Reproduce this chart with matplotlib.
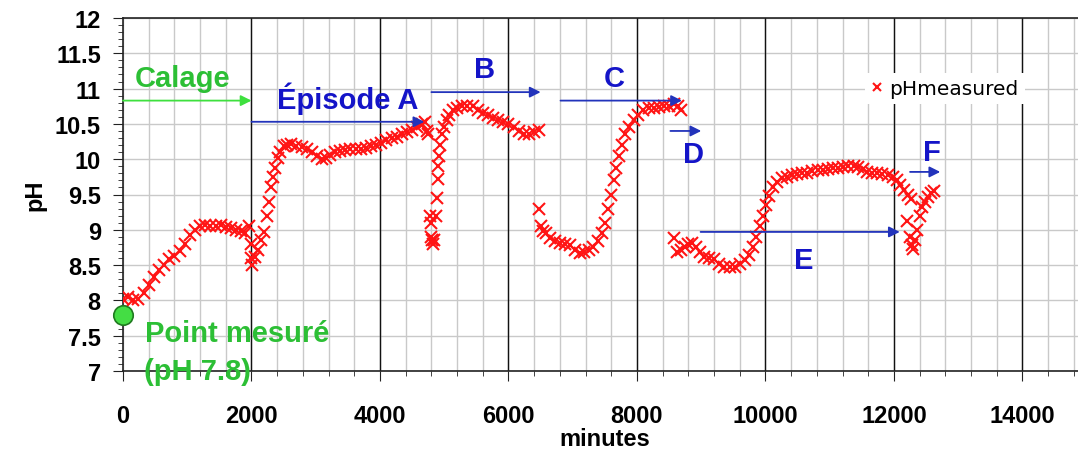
import matplotlib
matplotlib.use("Agg")
import matplotlib.pyplot as plt
from matplotlib.ticker import MultipleLocator

plt.rcParams['font.family'] = ['Liberation Sans', 'DejaVu Sans']

# ---- data (minutes, pH) ----
t_calage = [0, 80, 160, 240, 320, 400, 480, 560, 640, 720, 800, 880, 960, 1040, 1120,
            1200, 1280, 1360, 1440, 1520, 1600, 1680, 1760, 1840, 1900, 1960, 1990, 2000, 2010]
ph_calage = [8.02, 8.05, 8.00, 8.02, 8.10, 8.22, 8.33, 8.43, 8.50, 8.58, 8.63, 8.70, 8.80, 8.92, 9.00,
             9.05, 9.07, 9.06, 9.05, 9.07, 9.04, 9.03, 9.00, 8.98, 8.95, 9.05, 8.80, 8.60, 8.50]

t_a = [2050, 2100, 2150, 2200, 2240, 2270, 2300, 2330, 2370, 2410, 2450, 2500, 2560, 2620,
       2700, 2780, 2860, 2940, 3020, 3100, 3160, 3220, 3300, 3380, 3460, 3540, 3620, 3700,
       3780, 3860, 3940, 4020, 4100, 4180, 4260, 4340, 4420, 4500, 4580, 4650, 4700, 4730, 4750]
ph_a = [8.62, 8.72, 8.85, 8.97, 9.20, 9.40, 9.60, 9.75, 9.88, 10.01, 10.10, 10.18, 10.20, 10.21,
        10.19, 10.17, 10.15, 10.10, 10.05, 10.00, 10.02, 10.06, 10.10, 10.12, 10.13, 10.14, 10.15, 10.15,
        10.16, 10.18, 10.20, 10.23, 10.27, 10.30, 10.32, 10.35, 10.38, 10.42, 10.46, 10.50, 10.53, 10.40, 10.35]

t_b = [4780, 4790, 4800, 4810, 4820, 4840, 4870, 4890, 4900, 4910, 4920, 4940, 4970, 5000,
       5040, 5080, 5130, 5200, 5280, 5360, 5440, 5520, 5600, 5680, 5760, 5840, 5920, 6000,
       6080, 6160, 6240, 6320, 6400, 6470]
ph_b = [9.20, 9.10, 8.90, 8.85, 8.80, 8.85, 9.20, 9.45, 9.72, 9.90, 10.05, 10.20, 10.35, 10.45,
        10.55, 10.63, 10.69, 10.73, 10.75, 10.76, 10.75, 10.70, 10.66, 10.62, 10.59, 10.56, 10.53, 10.50,
        10.45, 10.40, 10.36, 10.35, 10.38, 10.42]

t_c = [6480, 6500, 6530, 6580, 6640, 6720, 6800, 6880, 6960, 7040, 7110, 7180, 7260, 7320,
       7390, 7450, 7500, 7550, 7600, 7640, 7680, 7720, 7760, 7820, 7880, 7950, 8020, 8100,
       8180, 8260, 8340, 8420, 8500, 8580, 8640, 8680]
ph_c = [9.30, 9.05, 8.98, 8.95, 8.88, 8.84, 8.81, 8.80, 8.78, 8.72, 8.67, 8.68, 8.72, 8.76,
        8.84, 8.95, 9.10, 9.30, 9.50, 9.70, 9.88, 10.05, 10.20, 10.35, 10.46, 10.55, 10.63, 10.69,
        10.72, 10.73, 10.74, 10.75, 10.76, 10.78, 10.76, 10.70]

t_e = [8580, 8620, 8680, 8740, 8800, 8860, 8920, 8980, 9040, 9120, 9200, 9280, 9360, 9440,
       9520, 9600, 9680, 9740, 9800, 9860, 9910, 9960, 10010, 10060, 10120, 10180, 10250, 10330,
       10410, 10490, 10570, 10650, 10730, 10810, 10890, 10970, 11050, 11130, 11210, 11290, 11370,
       11440, 11510, 11580, 11660, 11740, 11820, 11900, 11980, 12040, 12100, 12160, 12220, 12270]
ph_e = [8.88, 8.68, 8.72, 8.76, 8.80, 8.82, 8.76, 8.68, 8.62, 8.60, 8.58, 8.52, 8.48, 8.47,
        8.48, 8.52, 8.57, 8.65, 8.76, 8.90, 9.05, 9.20, 9.35, 9.48, 9.60, 9.68, 9.73, 9.75,
        9.77, 9.79, 9.80, 9.81, 9.83, 9.84, 9.85, 9.86, 9.87, 9.88, 9.89, 9.90, 9.91,
        9.89, 9.86, 9.82, 9.80, 9.80, 9.79, 9.78, 9.75, 9.70, 9.63, 9.57, 9.50, 9.43]

t_f = [12210, 12250, 12280, 12300, 12330, 12360, 12400, 12440, 12480, 12530, 12580, 12620]
ph_f = [9.12, 8.90, 8.78, 8.73, 8.85, 9.00, 9.20, 9.32, 9.40, 9.47, 9.52, 9.55]

minutes = t_calage + t_a + t_b + t_c + t_e + t_f
ph_measured = ph_calage + ph_a + ph_b + ph_c + ph_e + ph_f

point_measured = (0, 7.8)

x_ticks = [0, 2000, 4000, 6000, 8000, 10000, 12000, 14000]
y_ticks = [7, 7.5, 8, 8.5, 9, 9.5, 10, 10.5, 11, 11.5, 12]

GREEN_TXT = '#2cbf35'
GREEN_ARR = '#3ee03e'
BLUE_TXT = '#1414c8'
BLUE_ARR = '#2233bb'
RED = '#ff1414'

fig = plt.figure(figsize=(10.78, 4.56), dpi=100)
ax = fig.add_axes([123 / 1078, 1 - 372 / 456, 0.894, 353 / 456])
ax.set_xlim(0, 15000)
ax.set_ylim(7, 12)

# grid
ax.xaxis.set_minor_locator(MultipleLocator(400))
ax.yaxis.set_minor_locator(MultipleLocator(0.1))
ax.set_xticks(x_ticks)
ax.set_yticks(y_ticks)
ax.set_xticklabels([str(v) for v in x_ticks])
ax.set_yticklabels([('%g' % v) for v in y_ticks])
for xv in range(0, 15001, 400):
    ax.axvline(xv, color='#c9c9c9', lw=1.0, zorder=0)
for yv in y_ticks:
    ax.axhline(yv, color='#c9c9c9', lw=1.0, zorder=0)
for xv in x_ticks[1:]:
    ax.axvline(xv, color='#111111', lw=1.0, zorder=1)

for s in ['top', 'bottom', 'left']:
    ax.spines[s].set_color('#222222')
    ax.spines[s].set_linewidth(1.2)
ax.spines['right'].set_visible(False)

ax.tick_params(axis='both', which='major', labelsize=17, length=7, color='#222222')
ax.tick_params(axis='both', which='minor', length=3.5, color='#222222')
ax.tick_params(axis='x', which='major', pad=17)
ax.tick_params(axis='y', which='major', pad=9)
for lab in ax.get_xticklabels() + ax.get_yticklabels():
    lab.set_fontweight('bold')

ax.set_ylabel('pH', fontsize=17, fontweight='bold', labelpad=6)
ax.set_xlabel('minutes', fontsize=17, fontweight='bold', labelpad=0)

# data
ax.plot(minutes, ph_measured, linestyle='none', marker='x', color=RED,
        markersize=9, markeredgewidth=1.5, zorder=3, label='pHmeasured')

# measured point
ax.plot([point_measured[0]], [point_measured[1]], marker='o', markersize=14,
        markerfacecolor='#44dd44', markeredgecolor='#1f7a1f', markeredgewidth=1.2,
        linestyle='none', clip_on=False, zorder=5)


def arrow(x0, x1, y, color):
    ax.annotate('', xy=(x1, y), xytext=(x0, y),
                arrowprops=dict(arrowstyle='-|>', color=color, lw=1.3,
                                mutation_scale=16, shrinkA=0, shrinkB=0), zorder=4)


arrow(0, 2000, 10.83, GREEN_ARR)
arrow(2000, 4690, 10.53, BLUE_ARR)
arrow(4800, 6500, 10.95, BLUE_ARR)
arrow(6810, 8700, 10.83, BLUE_ARR)
arrow(8520, 9000, 10.40, BLUE_ARR)
arrow(8990, 12090, 8.97, BLUE_ARR)
arrow(12250, 12720, 9.82, BLUE_ARR)

tk = dict(fontsize=21, fontweight='bold', ha='center', va='baseline', zorder=6)
ax.text(934, 11.03, 'Calage', color=GREEN_TXT, **tk)
ax.text(3500, 10.72, 'Épisode A', color=BLUE_TXT, **tk)
ax.text(5630, 11.17, 'B', color=BLUE_TXT, **tk)
ax.text(7642, 11.03, 'C', color=BLUE_TXT, **tk)
ax.text(8887, 9.96, 'D', color=BLUE_TXT, **tk)
ax.text(10592, 8.46, 'E', color=BLUE_TXT, **tk)
ax.text(12590, 9.99, 'F', color=BLUE_TXT, **tk)
ax.text(340, 7.43, 'Point mesuré', color=GREEN_TXT, fontsize=21, fontweight='bold',
        ha='left', va='baseline', zorder=6)
ax.text(320, 6.89, '(pH 7.8)', color=GREEN_TXT, fontsize=21, fontweight='bold',
        ha='left', va='baseline', zorder=6, clip_on=False)

leg = ax.legend(loc='upper left', bbox_to_anchor=(855 / 1078, 1 - 64 / 456),
                bbox_transform=fig.transFigure, frameon=True, fancybox=False,
                edgecolor='none', facecolor='white', framealpha=1.0,
                prop={'family': 'DejaVu Sans', 'size': 14.5},
                handlelength=0.6, handletextpad=0.3, borderpad=0.3,
                markerscale=0.7)
leg.set_zorder(7)

fig.savefig('out.png', dpi=100)
